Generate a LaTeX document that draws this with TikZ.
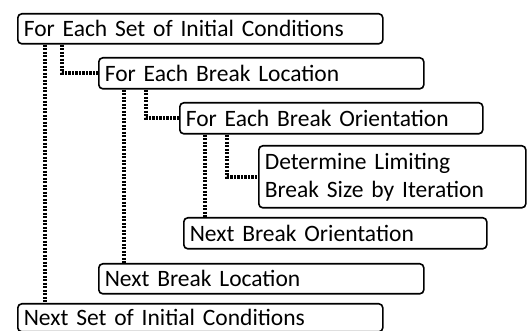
\documentclass[tikz,border=0pt]{standalone}
\usepackage{fontspec}
\setmainfont{Carlito}
\begin{document}
\begin{tikzpicture}[x=1pt,y=-1pt,
  box/.style={draw, line width=1.6pt, rounded corners=4pt, anchor=north west,
    inner xsep=6pt, inner ysep=1pt, align=left, font=\fontsize{23.5}{28}\selectfont},
  conn/.style={line width=3.6pt, dash pattern=on 2.2pt off 1.3pt}]
\useasboundingbox (0,0) rectangle (528,331);
\begin{scope}
\clip (0,0) rectangle (528,331);
\node[box, minimum width=365pt, minimum height=30pt, text width=353pt] (b1) at (17,13) {For Each Set of Initial Conditions};
\node[box, minimum width=325pt, minimum height=31pt, text width=313pt] (b2) at (98,57) {For Each Break Location};
\node[box, minimum width=303pt, minimum height=31pt, text width=291pt] (b3) at (179,102) {For Each Break Orientation};
\node[box, minimum width=267pt, minimum height=62pt, text width=255pt] (b4) at (258,145) {Determine Limiting\\Break Size by Iteration};
\node[box, minimum width=303pt, minimum height=31pt, text width=291pt] (b5) at (183,217) {Next Break Orientation};
\node[box, minimum width=325pt, minimum height=30pt, text width=313pt] (b6) at (98,263) {Next Break Location};
\node[box, minimum width=365pt, minimum height=28pt, text width=353pt] (b7) at (17,303) {Next Set of Initial Conditions};
\end{scope}
\draw[conn] ([xshift=28pt]b1.south west) -- ([xshift=28pt]b7.north west);
\draw[conn] ([xshift=45pt]b1.south west) |- (b2.west);
\draw[conn] ([xshift=26pt]b2.south west) -- ([xshift=26pt]b6.north west);
\draw[conn] ([xshift=48pt]b2.south west) |- (b3.west);
\draw[conn] ([xshift=26pt]b3.south west) coordinate (c5) -- (c5 |- b5.north);
\draw[conn] ([xshift=48pt]b3.south west) |- (b4.west);
\end{tikzpicture}
\end{document}
